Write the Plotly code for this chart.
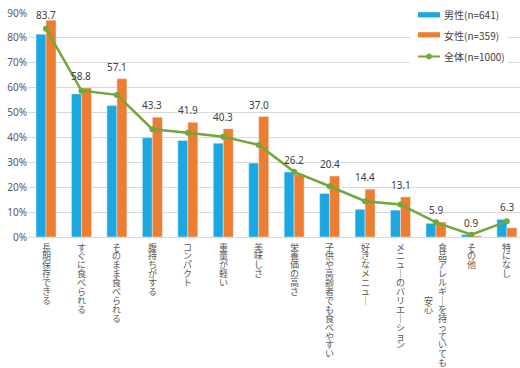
import plotly.graph_objects as go

categories = ["長期保存できる", "すぐに食べられる", "そのまま食べられる", "腹持ちがする", "コンパクト",
              "重量が軽い", "美味しさ", "栄養価の高さ", "子供や高齢者でも食べやすい", "好きなメニュー",
              "メニューのバリエーション", "食品アレルギーを持っていても\n安心", "その他", "特になし"]
male = [81.5, 57.5, 52.8, 39.9, 38.8, 37.7, 29.7, 26.1, 17.5, 11.1, 10.8, 5.5, 1.0, 7.1]
female = [87.1, 59.9, 63.6, 48.1, 46.1, 43.5, 48.4, 25.2, 24.5, 19.2, 16.1, 6.0, 0.5, 3.7]
total = [83.7, 58.8, 57.1, 43.3, 41.9, 40.3, 37.0, 26.2, 20.4, 14.4, 13.1, 5.9, 0.9, 6.3]
series_names = ["男性(n=641)", "女性(n=359)", "全体(n=1000)"]
yticks = [0, 10, 20, 30, 40, 50, 60, 70, 80, 90]

BLUE = "#1BA7E0"
ORANGE = "#ED7D31"
GREEN = "#70A83B"
TXT = "#595959"
CJK = "Noto Sans CJK JP"

W, H = 520, 368
L, R, T, B = 28, 0, 13, 131
pw, ph = W - L - R, H - T - B
x = list(range(len(categories)))
bw = 0.282

fig = go.Figure()
fig.add_trace(go.Bar(x=x, y=male, name=series_names[0], marker_color=BLUE,
                     width=bw, offset=-bw, showlegend=False))
fig.add_trace(go.Bar(x=x, y=female, name=series_names[1], marker_color=ORANGE,
                     width=bw, offset=0, showlegend=False))
fig.add_trace(go.Scatter(x=x, y=total, name=series_names[2], mode="lines+markers",
                         line=dict(color=GREEN, width=2.5),
                         marker=dict(color=GREEN, size=6), showlegend=False))

ann = []
# data labels for total
for i, v in enumerate(total):
    top = max(male[i], female[i], v)
    ann.append(dict(x=i, y=min(top + 4.8, 89.2), xref="x", yref="y", text=f"{v:.1f}",
                    showarrow=False, font=dict(family="Noto Sans", size=10, color="#404040"),
                    xanchor="center", yanchor="middle"))

# vertical category labels
step = 8.9
for i, cat in enumerate(categories):
    cols = cat.split("\n")
    n0 = len(cols[0])
    ncol = len(cols)
    for c, col in enumerate(cols):
        xs = 0 if ncol == 1 else (7 - 14 * c)
        off = (n0 - len(col)) / 2.0
        for j, ch in enumerate(col):
            disp = "｜" if ch == "ー" else ch
            ann.append(dict(x=i, y=0, xref="x", yref="y", text=disp, showarrow=False,
                            font=dict(family=CJK, size=9, color=TXT),
                            xanchor="center", yanchor="middle", height=9, borderpad=0,
                            xshift=xs, yshift=-(10 + (j + off) * step)))

# custom legend
def px2paper(px, py):
    return (px - L) / pw, (H - B - py) / ph

shapes = []
x0, y0 = px2paper(410, 5)
x1, y1 = px2paper(508, 66)
shapes.append(dict(type="rect", xref="paper", yref="paper", x0=x0, x1=x1, y0=y1, y1=y0,
                   fillcolor="white", line=dict(width=0), layer="above"))
for k, (col, cy) in enumerate([(BLUE, 14.8), (ORANGE, 34.8)]):
    ax0, ay0 = px2paper(418, cy - 2.6)
    ax1, ay1 = px2paper(440, cy + 2.6)
    shapes.append(dict(type="rect", xref="paper", yref="paper", x0=ax0, x1=ax1, y0=ay1, y1=ay0,
                       fillcolor=col, line=dict(width=0), layer="above"))
lx0, ly = px2paper(418, 56.5)
lx1, _ = px2paper(440, 56.5)
shapes.append(dict(type="line", xref="paper", yref="paper", x0=lx0, x1=lx1, y0=ly, y1=ly,
                   line=dict(color=GREEN, width=2), layer="above"))
mx0, my0 = px2paper(426.5, 54)
mx1, my1 = px2paper(431.5, 59)
shapes.append(dict(type="circle", xref="paper", yref="paper", x0=mx0, x1=mx1, y0=my1, y1=my0,
                   fillcolor=GREEN, line=dict(color=GREEN, width=1), layer="above"))
for name, cy in zip(series_names, [15, 35, 56.5]):
    tx, ty = px2paper(442, cy)
    ann.append(dict(x=tx, y=ty, xref="paper", yref="paper", text=name, showarrow=False,
                    xanchor="left", yanchor="middle",
                    font=dict(family=CJK, size=10, color="#404040")))

fig.update_layout(
    width=W, height=H,
    margin=dict(l=L, r=R, t=T, b=B, pad=0, autoexpand=False),
    paper_bgcolor="white", plot_bgcolor="white",
    barmode="overlay",
    showlegend=False,
    annotations=ann,
    shapes=shapes,
    font=dict(family=CJK, color=TXT),
    xaxis=dict(range=[-0.508, 13.37], tickvals=x, ticktext=[""] * len(x), showgrid=False,
               showline=True, linecolor="#D9D9D9", linewidth=1, ticks="", zeroline=False,
               fixedrange=True, automargin=False),
    yaxis=dict(range=[0, 90], tickvals=yticks, ticktext=[f"{v}%" for v in yticks],
               showgrid=True, gridcolor="#D9D9D9", gridwidth=1, zeroline=False,
               showline=False, ticks="", tickfont=dict(family="Noto Sans", size=10, color=TXT),
               fixedrange=True, automargin=False),
)

fig.write_html("out.html", config={"displayModeBar": False},
               post_script="document.body.style.margin='0';document.body.style.padding='0';"
                           "document.body.style.overflow='hidden';")
